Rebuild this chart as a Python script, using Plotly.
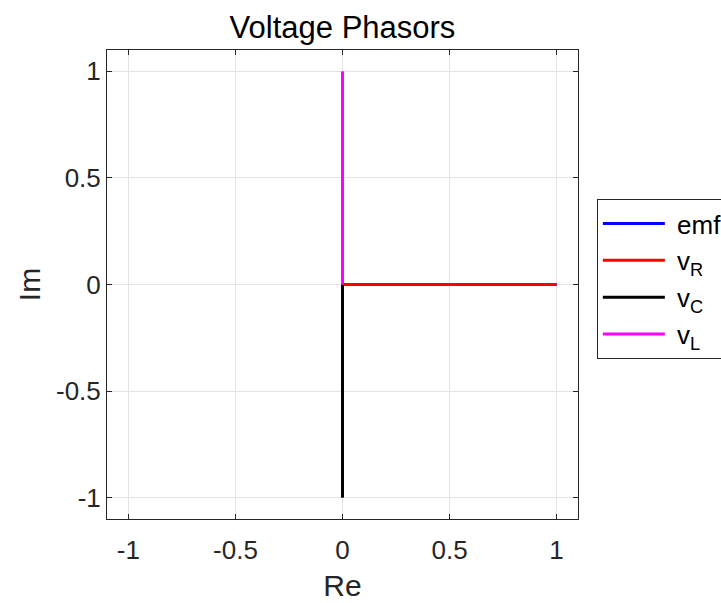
import plotly.graph_objects as go

# Phasor data (start point at origin, end point as complex value)
names = ["emf", "v<sub>R</sub>", "v<sub>C</sub>", "v<sub>L</sub>"]
re_end = [1.0, 1.0, 0.0, 0.0]
im_end = [0.0, 0.0, -1.0, 1.0]
colors = ["#0000ff", "#ff0000", "#000000", "#ff00ff"]
tick_vals = [-1, -0.5, 0, 0.5, 1]
tick_text = ["-1", "-0.5", "0", "0.5", "1"]

fig = go.Figure()
for n, xr, yi, c in zip(names, re_end, im_end, colors):
    fig.add_trace(go.Scatter(x=[0, xr], y=[0, yi], mode="lines",
                             name="\u00a0" + n,
                             line=dict(color=c, width=3)))

FONT = "Liberation Sans, Arial"
axis_common = dict(
    range=[-1.1, 1.1], tickvals=tick_vals, ticktext=tick_text,
    showgrid=True, gridcolor="#e3e3e3", gridwidth=1,
    zeroline=False, showline=True, linecolor="#262626", linewidth=1,
    mirror="ticks", ticks="inside", ticklen=5, tickcolor="#262626",
    tickfont=dict(size=26, color="#262626", family=FONT),
)

L, R, T, B = 107, 143, 50, 84
PW = 721 - L - R

fig.update_layout(
    width=721, height=603,
    margin=dict(l=L, r=R, t=T, b=B, autoexpand=False),
    paper_bgcolor="white", plot_bgcolor="white",
    font=dict(family=FONT, color="#262626"),
    title=dict(text="Voltage Phasors", x=(L + PW / 2) / 721, xref="container",
               xanchor="center", y=1 - 27 / 603, yref="container", yanchor="middle",
               font=dict(size=31, color="#000000", family=FONT)),
    xaxis=dict(title=dict(text="Re", font=dict(size=30), standoff=10),
               ticklabelstandoff=8, **axis_common),
    yaxis=dict(title=dict(text="Im", font=dict(size=30), standoff=6), **axis_common),
    legend=dict(x=1.04, y=0.682, xanchor="left", yanchor="top",
                bordercolor="#262626", borderwidth=1, bgcolor="white",
                font=dict(size=26, color="#000000", family=FONT), itemwidth=62,
                tracegroupgap=0),
    showlegend=True,
)

fig.write_html(
    "out.html",
    config={"displayModeBar": False},
    post_script="document.body.style.margin='0';document.body.style.overflow='hidden';",
)
